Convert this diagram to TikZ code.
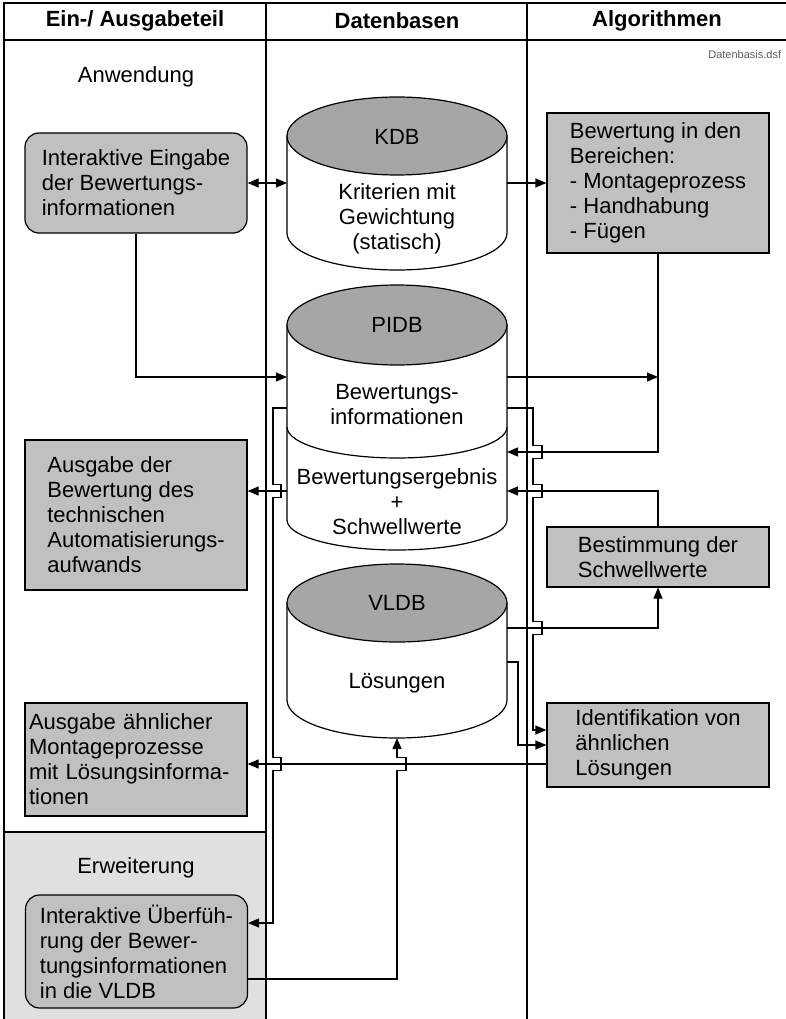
\documentclass[tikz,border=0pt]{standalone}
\usepackage{fontspec}
\setmainfont{Liberation Sans}
\usetikzlibrary{arrows.meta}
\definecolor{boxgray}{RGB}{192,192,192}
\definecolor{topgray}{RGB}{166,166,166}
\definecolor{areagray}{RGB}{224,224,224}
\definecolor{notegray}{RGB}{90,90,90}
\begin{document}
\begin{tikzpicture}[x=1pt,y=-1pt,line width=1.2pt,
  font=\fontsize{22}{25}\selectfont,
  >={Triangle[length=11pt,width=9pt]},
  frame/.style={line width=1.3pt},
  gbox/.style={draw, fill=boxgray, align=left, inner ysep=0pt, minimum width=222pt},
  rbox/.style={gbox, rounded corners=14pt},
  hdr/.style={font=\fontsize{22}{25}\selectfont\bfseries},
  cyl/.style={draw, fill=white},
  cyltop/.style={draw, fill=topgray},
  ghost/.style={inner sep=0pt, outer sep=0pt, minimum width=220pt},
]
\useasboundingbox (0,0) rectangle (786,1019);
% Erweiterung area
\fill[areagray] (4,832) rectangle (266,1019);
% frame
\draw[frame] (786,3) -- (4,3) -- (4,1019);
\draw[frame] (4,40) -- (786,40);
\draw[frame] (266,3) -- (266,1019);
\draw[frame] (527,3) -- (527,1019);
\draw[frame] (4,832) -- (266,832);
% headers
\node[hdr] (h1) at (135,21) {Ein-/ Ausgabeteil};
\node[hdr] (h2) at (397,21) {Datenbasen};
\node[hdr] (h3) at (657,21) {Algorithmen};
\node[font=\fontsize{11}{13}\selectfont, text=notegray, anchor=east] (dsf) at (785,55) {Datenbasis.dsf};
\node (anw) at (136,77) {Anwendung};
\node (erw) at (136,868) {Erweiterung};
% KDB
\path[cyl] (287,136) -- (287,233) arc[start angle=180,end angle=0,x radius=110,y radius=37] -- (507,136) -- cycle;
\path[cyltop] (397,136) ellipse[x radius=110,y radius=39];
% PIDB
\path[cyl] (287,325) -- (287,520) arc[start angle=180,end angle=0,x radius=110,y radius=30] -- (507,325) -- cycle;
\draw (287,427) arc[start angle=180,end angle=0,x radius=110,y radius=31];
\path[cyltop] (397,325) ellipse[x radius=110,y radius=40];
% VLDB
\path[cyl] (287,603) -- (287,700) arc[start angle=180,end angle=0,x radius=110,y radius=38] -- (507,603) -- cycle;
\path[cyltop] (397,603) ellipse[x radius=110,y radius=39];
% ghost nodes for the databases
\node[ghost, minimum height=173pt] (kdb) at (397,183.5) {};
\node[ghost, minimum height=265pt] (pidb) at (397,417.5) {};
\node[ghost, minimum height=174pt] (vldb) at (397,651) {};
% database texts
\node (kdbt) at (397,137) {KDB};
\node[align=center] (kdbx) at (397,219) {Kriterien mit\\Gewichtung\\(statisch)};
\node (pidbt) at (397,325) {PIDB};
\node[align=center] (pidbx) at (397,405) {Bewertungs-\\informationen};
\node[align=center] (pidby) at (397,502) {Bewertungsergebnis\\+\\Schwellwerte};
\node (vldbt) at (397,603) {VLDB};
\node (vldbx) at (397,683) {Lösungen};
% boxes
\node[rbox, minimum height=100pt] (e1) at (136,183) {Interaktive Eingabe\\der Bewertungs-\\informationen};
\node[gbox, minimum height=150pt] (a2) at (136,515) {Ausgabe der\\Bewertung des\\technischen\\Automatisierungs-\\aufwands};
\node[gbox, text width=214pt, inner xsep=4pt, minimum height=113pt] (a3) at (136,759.5) {Ausgabe ähnlicher\\Montageprozesse\\mit Lösungsinforma-\\tionen};
\node[rbox, minimum height=113pt] (a4) at (136.5,951.5) {Interaktive Überfüh-\\rung der Bewer-\\tungsinformationen\\in die VLDB};
\node[gbox, minimum height=140pt] (b1) at (658,183) {Bewertung in den\\Bereichen:\\- Montageprozess\\- Handhabung\\- Fügen};
\node[gbox, minimum height=60pt] (b2) at (658,557) {Bestimmung der\\Schwellwerte};
\node[gbox, minimum height=84pt] (b3) at (658,745) {Identifikation von\\ähnlichen\\Lösungen};
% levels
\coordinate (yA) at (0,377);
\coordinate (yB) at (0,452);
\coordinate (yC) at (0,491);
\coordinate (yD) at (0,628);
\coordinate (yE) at (0,408);
\coordinate (yF) at (0,730);
\coordinate (yG) at (0,923);
\coordinate (yH) at (0,662);
\coordinate (yI) at (0,764);
\coordinate (yJ) at (0,979);
% connectors
\draw[<->] (e1.east) -- (e1.east -| kdb.west);
\draw[->] (kdb.east |- b1.west) -- (b1.west);
\draw[->] (e1.south) |- (pidb.west |- yA);
\draw[->] (pidb.east |- yA) -- (b1.south |- yA);
\draw[->] (b1.south) |- (pidb.east |- yB);
\draw[->] (b2.north) |- (pidb.east |- yC);
\draw[->] (vldb.east |- yD) -| (b2.south);
\draw[->] (pidb.east |- yE) -- (533,408) -- (533,445.5) -- (542,445.5) -- (542,458.5) -- (533,458.5)
  -- (533,484.5) -- (542,484.5) -- (542,497.5) -- (533,497.5)
  -- (533,621.5) -- (542,621.5) -- (542,634.5) -- (533,634.5) -- (533,730) -- (b3.west |- yF);
\draw[->] (pidb.west |- yE) -- (273,408) -- (273,484.5) -- (281,484.5) -- (281,497.5) -- (273,497.5)
  -- (273,757.5) -- (281,757.5) -- (281,770.5) -- (273,770.5) -- (273,923) -- (a4.east |- yG);
\draw[->] (pidb.west |- yC) -- (a2.east |- yC);
\draw[->] (vldb.east |- yH) -- (518,662) |- (b3.west);
\draw[->] (b3.west |- yI) -- (a3.east |- yI);
\draw[->] (a4.east |- yJ) -- (397,979) -- (397,770.5) -- (406,770.5) -- (406,757.5) -- (397,757.5) -- (vldb.south);
\end{tikzpicture}
\end{document}
